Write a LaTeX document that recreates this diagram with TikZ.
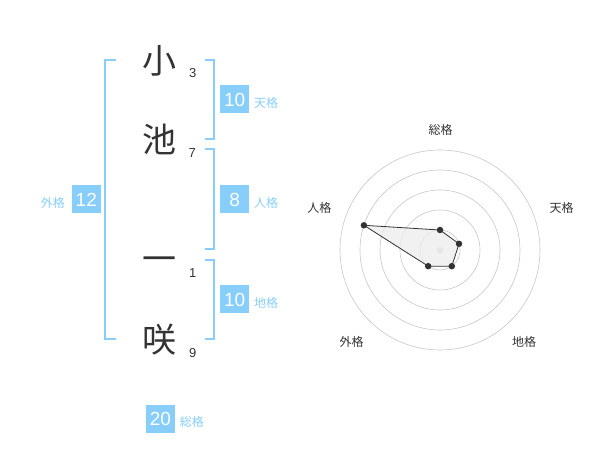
\documentclass[tikz,border=0pt]{standalone}
\usepackage{fontspec}
\setmainfont{Liberation Sans}
\newfontfamily\jp{Noto Sans CJK JP}
\usepackage{tikz}
\usetikzlibrary{positioning, calc}
\definecolor{skyb}{RGB}{135,206,250}
\definecolor{ink}{RGB}{51,51,51}
\tikzstyle{kanji} = [font=\jp\fontsize{34}{34}\selectfont, text=ink, inner sep=0pt, text height=29.9pt, text depth=4.1pt]
\tikzstyle{strokes} = [font=\fontsize{13}{13}\selectfont, text=ink, inner sep=0pt]
\tikzstyle{numbox} = [rectangle, fill=skyb, text=white, minimum width=29pt, minimum height=28pt, inner sep=0pt, font=\fontsize{19}{19}\selectfont]
\tikzstyle{kaku} = [text=skyb, font=\jp\fontsize{12}{12}\selectfont, inner sep=0pt]
\tikzstyle{bracket} = [draw=skyb, line width=2pt]
\tikzstyle{ring} = [draw=black!22, line width=0.6pt]
\tikzstyle{axislbl} = [text=ink, font=\jp\fontsize{12}{12}\selectfont, inner sep=0pt]
\tikzstyle{dot} = [circle, fill=ink, inner sep=0pt, minimum size=6.5pt]

\begin{document}
\begin{tikzpicture}[x=1pt, y=-1pt]
\useasboundingbox (0,0) rectangle (600,470);

% name, top to bottom
\node (ko) [kanji] at (159.5,61) {小};
\node (ike) [kanji] at (159.5,140) {池};
\node (ichi) [kanji] at (159.5,259) {一};
\node (saki) [kanji] at (159.5,340) {咲};
\node (ko-n) [strokes] at (192.7,72.7) {3};
\node (ike-n) [strokes] at (192.3,152.7) {7};
\node (ichi-n) [strokes] at (192.7,272.7) {1};
\node (saki-n) [strokes] at (192.7,352.7) {9};

% brackets
\draw [bracket] (116,60) -- (105,60) -- (105,339.3) -- (116,339.3);
\draw [bracket] (205,60) -- (214.3,60) -- (214.3,139.3) -- (205,139.3);
\draw [bracket] (205,149.3) -- (214.3,149.3) -- (214.3,249.3) -- (205,249.3);
\draw [bracket] (205,260) -- (214.3,260) -- (214.3,339.3) -- (205,339.3);

% scores
\node (ten) [numbox] at (234.7,99.5) {10};
\node (ten-l) [kaku, right=4.5pt of ten, yshift=-3pt] {天格};
\node (jin) [numbox] at (234.7,199.5) {8};
\node (jin-l) [kaku, right=4.5pt of jin, yshift=-3pt] {人格};
\node (chi) [numbox] at (234.7,299.5) {10};
\node (chi-l) [kaku, right=4.5pt of chi, yshift=-3pt] {地格};
\node (gai) [numbox] at (86.3,199.5) {12};
\node (gai-l) [kaku, left=6.5pt of gai, yshift=-3pt] {外格};
\node (sou) [numbox] at (160.5,419) {20};
\node (sou-l) [kaku, right=4.5pt of sou, yshift=-3pt] {総格};

% radar
\coordinate (c) at (440,250);
\foreach \r in {20,40,60,80,100}
  \draw [ring] (c) circle (\r);
\fill [black!20] (c) circle (3.3);
\coordinate (q-sou) at ($(c)+(0,-20)$);
\coordinate (q-ten) at ($(c)+(19,-6.2)$);
\coordinate (q-chi) at ($(c)+(11.8,16.2)$);
\coordinate (q-gai) at ($(c)+(-11.8,16.2)$);
\coordinate (q-jin) at ($(c)+(-76.1,-24.7)$);
\filldraw [fill=black!7, fill opacity=0.8, draw=ink, line width=0.8pt] (q-sou) -- (q-ten) -- (q-chi) -- (q-gai) -- (q-jin) -- cycle;
\foreach \p in {sou,ten,chi,gai,jin}
  \node (p-\p) [dot] at (q-\p) {};

\node (a-sou) [axislbl] at (440.7,130) {総格};
\node (a-ten) [axislbl] at (561.7,208.3) {天格};
\node (a-chi) [axislbl] at (524,341.7) {地格};
\node (a-gai) [axislbl] at (351.7,341.7) {外格};
\node (a-jin) [axislbl] at (319.3,208.3) {人格};
\end{tikzpicture}
\end{document}
